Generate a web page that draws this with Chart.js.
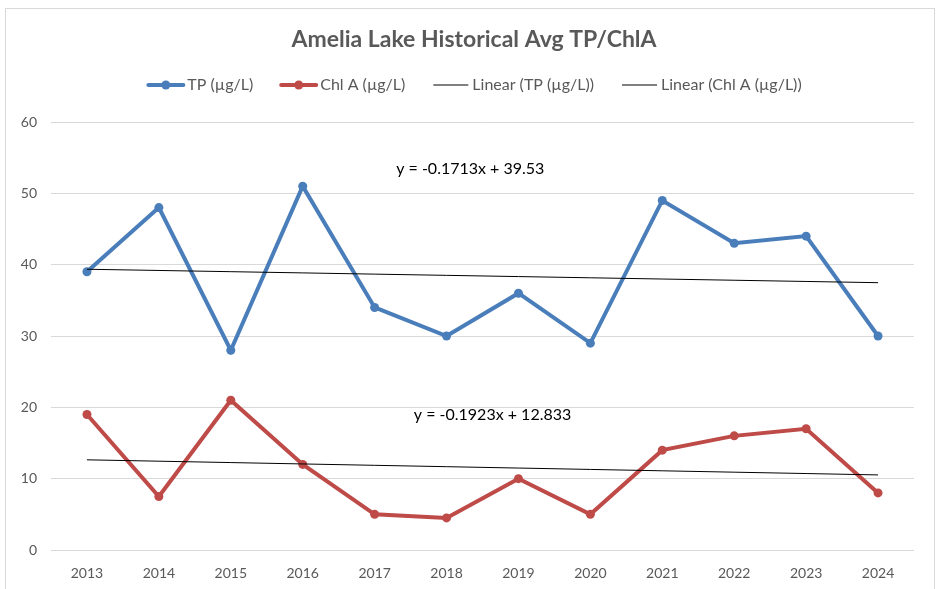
<!DOCTYPE html>
<html>
<head>
<meta charset="utf-8">
<script src="https://cdn.jsdelivr.net/npm/chart.js@4.4.1/dist/chart.umd.min.js"></script>
<style>
    html, body { margin: 0; padding: 0; background: #ffffff; }
    #wrap { width: 940px; height: 589px; }
</style>
</head>
<body>
<div id="wrap"><canvas id="lakeChart" width="940" height="589"></canvas></div>
<script>
// Data
const years = ['2013', '2014', '2015', '2016', '2017', '2018', '2019', '2020', '2021', '2022', '2023', '2024'];
const tpValues = [39, 48, 28, 51, 34, 30, 36, 29, 49, 43, 44, 30];
const chlValues = [19, 7.5, 21, 12, 5, 4.5, 10, 5, 14, 16, 17, 8];
const yTicks = [0, 10, 20, 30, 40, 50, 60];
const chartTitle = 'Amelia Lake Historical Avg TP/ChlA';
const tpEquation = 'y = -0.1713x + 39.53';
const chlEquation = 'y = -0.1923x + 12.833';

const FONT = "Lato, 'Open Sans', sans-serif";
const TEXT = '#595959';
const TP_COLOR = '#4a7ebb';
const CHL_COLOR = '#be4b48';

// least squares fit, x = 1..n like Excel does
function linearFit(values) {
    const n = values.length;
    let sx = 0, sy = 0, sxy = 0, sxx = 0;
    values.forEach(function(v, i) {
        const x = i + 1;
        sx += x; sy += v; sxy += x * v; sxx += x * x;
    });
    const slope = (n * sxy - sx * sy) / (n * sxx - sx * sx);
    const intercept = (sy - slope * sx) / n;
    return values.map(function(v, i) { return intercept + slope * (i + 1); });
}

const tpTrend = linearFit(tpValues);
const chlTrend = linearFit(chlValues);

// border, title, legend and equation labels
const extras = {
    id: 'extras',
    beforeDraw(chart) {
        const ctx = chart.ctx;
        ctx.save();
        ctx.fillStyle = '#ffffff';
        ctx.fillRect(0, 0, chart.width, chart.height);
        ctx.strokeStyle = '#d9d9d9';
        ctx.lineWidth = 1;
        ctx.strokeRect(5.5, 8.5, 929, 620);
        ctx.restore();
    },
    afterDraw(chart) {
        const ctx = chart.ctx;
        const x = chart.scales.x;
        const y = chart.scales.y;
        ctx.save();

        // title
        ctx.font = 'bold 23px ' + FONT;
        ctx.fillStyle = TEXT;
        ctx.textAlign = 'center';
        ctx.textBaseline = 'middle';
        ctx.fillText(chartTitle, 474, 40);

        // equations
        ctx.font = '16px ' + FONT;
        ctx.fillStyle = '#000000';
        ctx.fillText(tpEquation, x.getPixelForValue(5.33), y.getPixelForValue(53.5));
        ctx.fillText(chlEquation, x.getPixelForValue(5.64), y.getPixelForValue(18.9));

        // legend
        const items = [
            { text: 'TP (µg/L)', color: TP_COLOR, width: 4, dot: true },
            { text: 'Chl A (µg/L)', color: CHL_COLOR, width: 4, dot: true },
            { text: 'Linear (TP (µg/L))', color: '#000000', width: 1, dot: false },
            { text: 'Linear (Chl A (µg/L))', color: '#000000', width: 1, dot: false }
        ];
        const swatch = 35, gap = 4, spacing = 28;
        ctx.font = '16px ' + FONT;
        let total = 0;
        items.forEach(function(it) {
            it.w = ctx.measureText(it.text).width;
            total += swatch + gap + it.w;
        });
        total += spacing * (items.length - 1);
        let lx = 475 - total / 2;
        const ly = 85;
        ctx.textAlign = 'left';
        items.forEach(function(it) {
            ctx.strokeStyle = it.color;
            ctx.lineWidth = it.width;
            ctx.lineCap = it.dot ? 'round' : 'butt';
            ctx.beginPath();
            ctx.moveTo(lx, ly);
            ctx.lineTo(lx + swatch, ly);
            ctx.stroke();
            if (it.dot) {
                ctx.fillStyle = it.color;
                ctx.beginPath();
                ctx.arc(lx + swatch / 2, ly, 4.5, 0, Math.PI * 2);
                ctx.fill();
            }
            ctx.fillStyle = TEXT;
            ctx.fillText(it.text, lx + swatch + gap, ly);
            lx += swatch + gap + it.w + spacing;
        });
        ctx.restore();
    }
};

const ctx = document.getElementById('lakeChart').getContext('2d');
const lakeChart = new Chart(ctx, {
    type: 'line',
    data: {
        labels: years,
        datasets: [{
            label: 'TP (µg/L)',
            data: tpValues,
            borderColor: TP_COLOR,
            backgroundColor: TP_COLOR,
            borderWidth: 4,
            pointRadius: 4.5,
            pointBorderWidth: 0,
            tension: 0,
            order: 3
        }, {
            label: 'Chl A (µg/L)',
            data: chlValues,
            borderColor: CHL_COLOR,
            backgroundColor: CHL_COLOR,
            borderWidth: 4,
            pointRadius: 4.5,
            pointBorderWidth: 0,
            tension: 0,
            order: 4
        }, {
            label: 'Linear (TP (µg/L))',
            data: tpTrend,
            borderColor: '#000000',
            borderWidth: 1,
            pointRadius: 0,
            order: 1
        }, {
            label: 'Linear (Chl A (µg/L))',
            data: chlTrend,
            borderColor: '#000000',
            borderWidth: 1,
            pointRadius: 0,
            order: 2
        }]
    },
    options: {
        responsive: false,
        animation: false,
        devicePixelRatio: 1,
        layout: {
            padding: { left: 5, right: 26, top: 122, bottom: 0 }
        },
        scales: {
            x: {
                offset: true,
                afterFit: function(scale) { scale.height = 39; },
                grid: { display: false, drawTicks: false },
                border: { display: false },
                ticks: {
                    color: TEXT,
                    padding: 15,
                    font: { family: FONT, size: 14 }
                }
            },
            y: {
                min: 0,
                max: 60,
                afterFit: function(scale) { scale.width = 46; },
                afterBuildTicks: function(scale) {
                    scale.ticks = yTicks.map(function(v) { return { value: v }; });
                },
                grid: {
                    color: '#d9d9d9',
                    drawTicks: false
                },
                border: { display: false },
                ticks: {
                    color: TEXT,
                    padding: 14,
                    font: { family: FONT, size: 14 }
                }
            }
        },
        plugins: {
            legend: { display: false },
            tooltip: { enabled: false },
            title: { display: false }
        }
    },
    plugins: [extras]
});
</script>
</body>
</html>
